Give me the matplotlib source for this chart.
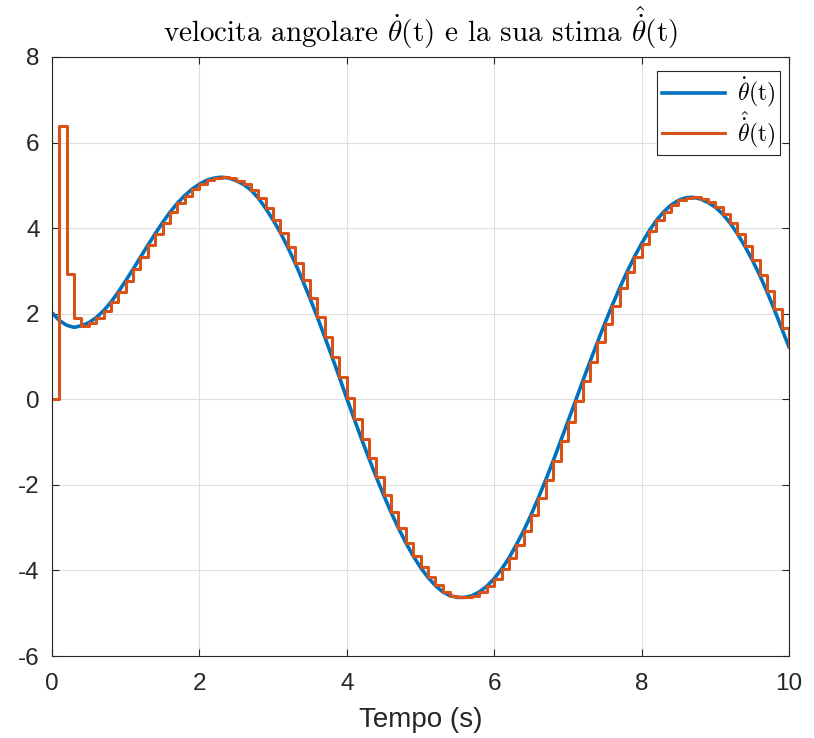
import numpy as np
import matplotlib
matplotlib.use("Agg")
import matplotlib.pyplot as plt

plt.rcParams["mathtext.fontset"] = "cm"
plt.rcParams["axes.unicode_minus"] = False
plt.rcParams["font.family"] = ["Liberation Sans", "DejaVu Sans"]

# sampling step of the estimate (s)
t_step = 0.1

# angular velocity, read every 0.1 s from 0 to 10 s
omega = [
    2.02, 1.84, 1.73, 1.68, 1.72, 1.79, 1.91, 2.07, 2.27, 2.51,
    2.77, 3.04, 3.32, 3.60, 3.87, 4.13, 4.37, 4.58, 4.76, 4.91,
    5.03, 5.12, 5.17, 5.19, 5.17, 5.11, 5.02, 4.89, 4.70, 4.46,
    4.19, 3.89, 3.55, 3.18, 2.78, 2.36, 1.92, 1.46, 0.99, 0.51,
    0.02, -0.46, -0.93, -1.38, -1.82, -2.24, -2.64, -3.01, -3.35, -3.66,
    -3.93, -4.16, -4.35, -4.50, -4.59, -4.63, -4.63, -4.59, -4.50, -4.37,
    -4.19, -3.97, -3.71, -3.40, -3.07, -2.70, -2.30, -1.88, -1.44, -0.98,
    -0.52, -0.05, 0.42, 0.88, 1.33, 1.77, 2.19, 2.59, 2.97, 3.32,
    3.64, 3.93, 4.18, 4.38, 4.54, 4.65, 4.71, 4.72, 4.68, 4.60,
    4.49, 4.33, 4.12, 3.87, 3.58, 3.26, 2.91, 2.52, 2.10, 1.66,
    1.22,
]

# first samples of the estimate (transient), afterwards it follows omega
omega_hat_start = [0.0, 6.38, 2.93, 1.90]

x_ticks = [0, 2, 4, 6, 8, 10]
y_ticks = [-6, -4, -2, 0, 2, 4, 6, 8]

t = np.arange(len(omega)) * t_step
omega_hat = omega_hat_start + omega[len(omega_hat_start):]

fig = plt.figure(figsize=(8.14, 7.38), dpi=100)
ax = fig.add_axes([0.0639, 0.1111, 0.9054, 0.8117])

ax.plot(t, omega, color="#0072BD", linewidth=2.6, label=r"$\dot{\theta}$(t)")
ax.step(t, omega_hat, where="post", color="#D95319", linewidth=2.2,
        label=r"$\hat{\dot{\theta}}$(t)")

ax.set_xlim(0, 10)
ax.set_ylim(-6, 8)
ax.set_xticks(x_ticks)
ax.set_yticks(y_ticks)

ax.grid(True, color="#dfdfdf", linewidth=0.8)
ax.set_axisbelow(True)
for s in ax.spines.values():
    s.set_color("#262626")
    s.set_linewidth(0.8)
ax.tick_params(direction="in", length=5, width=0.8, top=True, right=True,
               labelsize=17.5, colors="#262626", pad=9)
ax.tick_params(axis="x", pad=12)

ax.set_xlabel("Tempo (s)", fontsize=20, color="#262626", labelpad=9)
ax.set_title(r"velocita angolare $\dot{\theta}$(t) e la sua stima $\hat{\dot{\theta}}$(t)",
             fontsize=21, family="cmr10", pad=11)

leg = ax.legend(loc="upper right", bbox_to_anchor=(0.988, 0.977),
                prop={"family": "cmr10", "size": 17},
                fancybox=False, framealpha=1, edgecolor="#262626",
                handlelength=2.7, handletextpad=0.5, borderaxespad=0.0,
                borderpad=0.2, labelspacing=0.0)
leg.get_frame().set_linewidth(0.8)

plt.savefig("out.png", dpi=100)
plt.close()
